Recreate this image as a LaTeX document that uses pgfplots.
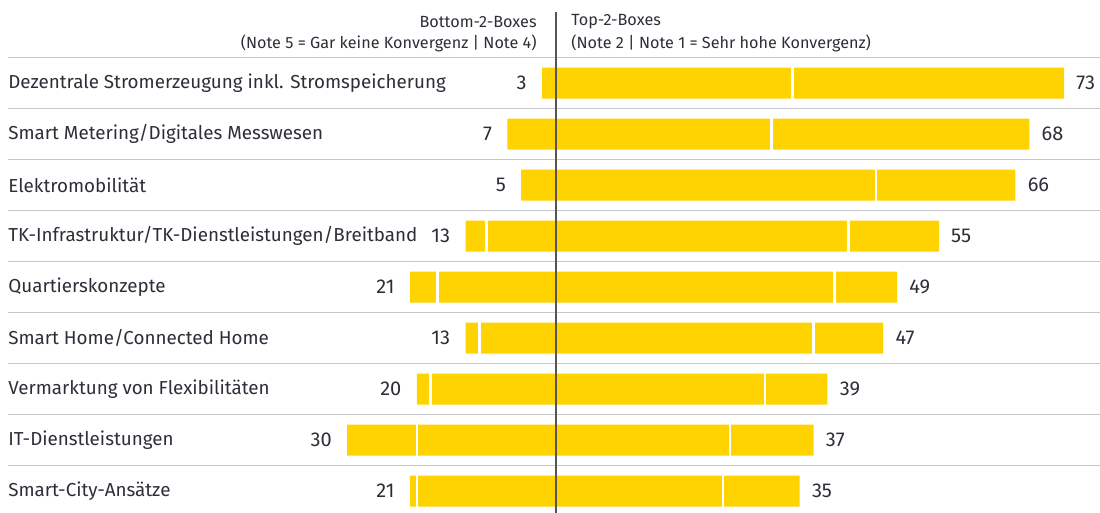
\documentclass[border=0pt]{standalone}
\usepackage{pgfplots}
\pgfplotsset{compat=1.18}
\usepackage{pgfplotstable}
\usepackage{fontspec}
\setmainfont{Fira Sans}
\definecolor{eyyellow}{HTML}{FFD300}
\definecolor{txt}{HTML}{2E2E38}
\definecolor{sep}{HTML}{C4C7CC}
\definecolor{axisline}{HTML}{555555}

\pgfplotstableread{
row ltot rdiv rtot llab rlab
1 -2  34 73 3 73
2 -7  31 68 7 68
3 -5  46 66 5 66
4 -13 42 55 13 55
5 -21 40 49 21 49
6 -13 37 47 13 47
7 -20 30 39 20 39
8 -30 25 37 30 37
9 -21 24 35 21 35
}\data

\pgfplotstableread{
row ldiv
4 -10
5 -17
6 -11
7 -18
8 -20
9 -20
}\leftdiv

\begin{document}
\begin{tikzpicture}
\begin{axis}[
  scale only axis,
  width=550pt, height=256.5pt,
  xmin=-79.885, xmax=78.161,
  ymin=-0.6275, ymax=9.431,
  y dir=reverse,
  axis lines=none,
  ticks=none,
  clip=false,
  font=\fontsize{9}{10}\selectfont,
]
% separators
\pgfplotsinvokeforeach{0.5,1.5,2.5,3.5,4.5,5.5,6.5,7.5,8.5}{
  \addplot[sep, line width=0.75pt, no marks] coordinates {(-78.74,#1) (78.161,#1)};
}
% bars
\addplot[xbar, bar width=0.608, bar shift=0pt, fill=eyyellow, draw=none] table[x=rtot, y=row] {\data};
\addplot[xbar, bar width=0.608, bar shift=0pt, fill=eyyellow, draw=none] table[x=ltot, y=row] {\data};
% dividers
\addplot[only marks, mark=|, mark size=8pt, mark options={white, line width=1.3pt}] table[x=rdiv, y=row] {\data};
\addplot[only marks, mark=|, mark size=8pt, mark options={white, line width=1.3pt}] table[x=ldiv, y=row] {\leftdiv};
% center line
\addplot[axisline, line width=0.75pt, no marks] coordinates {(0,-0.392) (0,9.431)};
% value labels
\addplot[draw=none, mark=none, nodes near coords, point meta=explicit symbolic,
  nodes near coords style={anchor=east, xshift=-7.5pt, text=txt, font=\fontsize{10}{11}\selectfont, inner sep=0pt}]
  table[x=ltot, y=row, meta=llab] {\data};
\addplot[draw=none, mark=none, nodes near coords, point meta=explicit symbolic,
  nodes near coords style={anchor=west, xshift=6pt, text=txt, font=\fontsize{10}{11}\selectfont, inner sep=0pt}]
  table[x=rtot, y=row, meta=rlab] {\data};
% category labels
\addplot[draw=none, mark=none, nodes near coords, point meta=explicit symbolic,
  nodes near coords style={anchor=west, text=txt, font=\fontsize{9.4}{10}\selectfont, inner sep=0pt}]
  coordinates {
  (-78.74,1) [Dezentrale Stromerzeugung inkl. Stromspeicherung]
  (-78.74,2) [Smart Metering/Digitales Messwesen]
  (-78.74,3) [Elektromobilität]
  (-78.74,4) [TK-Infrastruktur/TK-Dienstleistungen/Breitband]
  (-78.74,5) [Quartierskonzepte]
  (-78.74,6) [Smart Home/Connected Home]
  (-78.74,7) [Vermarktung von Flexibilitäten]
  (-78.74,8) [IT-Dienstleistungen]
  (-78.74,9) [Smart-City-Ansätze]
  };
% headers
\node[anchor=east, inner sep=0pt, text=txt, font=\fontsize{8.1}{9}\selectfont] at (axis cs:-2.73,-0.196) {Bottom-2-Boxes};
\node[anchor=east, inner sep=0pt, text=txt, font=\fontsize{8.1}{9}\selectfont] at (axis cs:-2.73,0.215) {(Note 5 = Gar keine Konvergenz | Note 4)};
\node[anchor=west, inner sep=0pt, text=txt, font=\fontsize{8.1}{9}\selectfont] at (axis cs:2.155,-0.196) {Top-2-Boxes};
\node[anchor=west, inner sep=0pt, text=txt, font=\fontsize{8.1}{9}\selectfont] at (axis cs:2.155,0.215) {(Note 2 | Note 1 = Sehr hohe Konvergenz)};
\end{axis}
\pgfresetboundingbox
\useasboundingbox (current axis.south west) rectangle (current axis.north east);
\end{tikzpicture}
\end{document}
